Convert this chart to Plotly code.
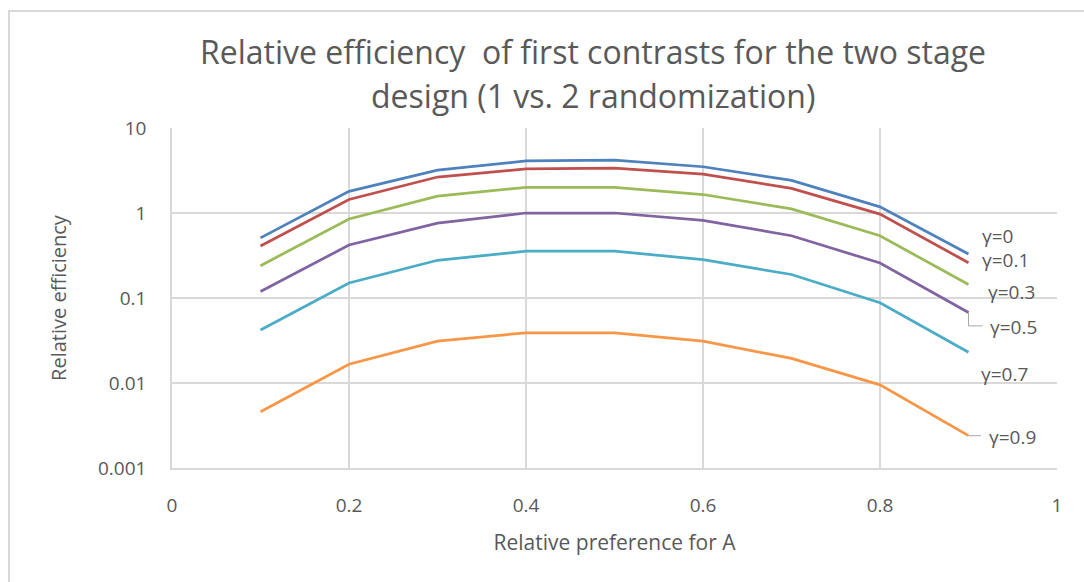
import plotly.graph_objects as go

# Relative preference for treatment A
preference = [0.1, 0.2, 0.3, 0.4, 0.5, 0.6, 0.7, 0.8, 0.9]

# Relative efficiency for each value of gamma
eff_g0 = [0.51, 1.80, 3.20, 4.10, 4.20, 3.50, 2.42, 1.18, 0.33]
eff_g01 = [0.41, 1.44, 2.65, 3.30, 3.37, 2.86, 1.95, 0.97, 0.26]
eff_g03 = [0.24, 0.85, 1.58, 2.00, 2.00, 1.65, 1.12, 0.54, 0.144]
eff_g05 = [0.119, 0.42, 0.76, 1.00, 1.00, 0.82, 0.54, 0.258, 0.0675]
eff_g07 = [0.042, 0.15, 0.278, 0.355, 0.356, 0.283, 0.189, 0.088, 0.023]
eff_g09 = [0.0046, 0.0166, 0.031, 0.039, 0.039, 0.031, 0.0195, 0.0095, 0.0024]

series_names = ["γ=0", "γ=0.1", "γ=0.3", "γ=0.5", "γ=0.7", "γ=0.9"]
series_values = [eff_g0, eff_g01, eff_g03, eff_g05, eff_g07, eff_g09]
series_colors = ["#4F81BD", "#C0504D", "#9BBB59", "#8064A2", "#4BACC6", "#F79646"]

x_ticks = [0, 0.2, 0.4, 0.6, 0.8, 1]
x_ticktext = ["0", "0.2", "0.4", "0.6", "0.8", "1"]
y_ticks = [0.001, 0.01, 0.1, 1, 10]
y_ticktext = ["0.001", "0.01", "0.1", "1", "10"]

title_lines = ["Relative efficiency  of first contrasts for the two stage",
               "design (1 vs. 2 randomization)"]

FONT = "Open Sans"
TEXT = "#595959"
GRID = "#D9D9D9"

# plot area in pixels: x 172..1057, y 128..468
def px_x(p):
    return (p - 172) / 885


def px_y(p):
    return (468 - p) / 340


fig = go.Figure()
for name, vals, col in zip(series_names, series_values, series_colors):
    fig.add_trace(go.Scatter(x=preference, y=vals, mode="lines", name=name,
                             line=dict(color=col, width=2.75), showlegend=False,
                             hoverinfo="x+y+name"))

# Leader lines for two of the end labels (start at each series' last point)
x_end = preference[-1]
fig.add_trace(go.Scatter(x=[x_end, x_end, 0.916], y=[eff_g05[-1], 0.047, 0.047],
                         mode="lines", line=dict(color="#A6A6A6", width=1),
                         showlegend=False, hoverinfo="skip"))
fig.add_trace(go.Scatter(x=[x_end, 0.914], y=[eff_g09[-1], eff_g09[-1]],
                         mode="lines", line=dict(color="#A6A6A6", width=1),
                         showlegend=False, hoverinfo="skip"))

# End-of-line labels: (left edge px, centre px)
label_pos = [(980, 236), (980, 260), (986, 292), (988, 327), (979, 374), (987, 437)]
for name, (lx, ly) in zip(series_names, label_pos):
    fig.add_annotation(x=px_x(lx), y=px_y(ly), xref="paper", yref="paper", text=name,
                       showarrow=False, xanchor="left", yanchor="middle",
                       font=dict(family=FONT, size=19, color=TEXT))

# Title, two centred lines
for line, cy in zip(title_lines, [52, 96]):
    fig.add_annotation(text=line, xref="paper", yref="paper", x=px_x(593), y=px_y(cy),
                       xanchor="center", yanchor="middle", showarrow=False,
                       font=dict(family=FONT, size=32, color=TEXT))

# Horizontal axis crossing at 1
fig.add_shape(type="line", xref="paper", yref="paper", x0=0, x1=1, y0=0.75, y1=0.75,
              line=dict(color="#BFBFBF", width=1.5), layer="below")

# Chart border
fig.add_shape(type="rect", xref="paper", yref="paper",
              x0=px_x(9), x1=px_x(1095), y0=px_y(600), y1=px_y(11),
              line=dict(color="#D9D9D9", width=2), layer="below")

fig.update_layout(
    width=1084, height=582,
    margin=dict(l=172, r=27, t=128, b=114),
    paper_bgcolor="white", plot_bgcolor="white",
    font=dict(family=FONT, color=TEXT),
    xaxis=dict(range=[0, 1], tickvals=x_ticks, ticktext=x_ticktext,
               showgrid=True, gridcolor=GRID, gridwidth=1.5,
               showline=True, linecolor=GRID, linewidth=1.5,
               zeroline=False, ticks="", ticklabelstandoff=19,
               tickfont=dict(family=FONT, size=19, color=TEXT),
               title=dict(text="Relative preference for A", standoff=19,
                          font=dict(family=FONT, size=21, color=TEXT))),
    yaxis=dict(type="log", range=[-3, 1], tickvals=y_ticks, ticktext=y_ticktext,
               showgrid=True, gridcolor=GRID, gridwidth=1.5,
               showline=True, linecolor=GRID, linewidth=1.5,
               zeroline=False, ticks="", ticklabelstandoff=20,
               tickfont=dict(family=FONT, size=19, color=TEXT),
               title=dict(text="Relative efficiency", standoff=26,
                          font=dict(family=FONT, size=20, color=TEXT))),
)

fig.write_html("out.html")
